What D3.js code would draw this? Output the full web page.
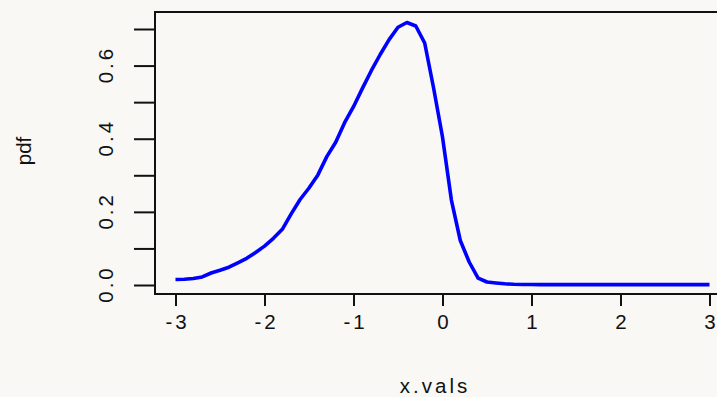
<!DOCTYPE html>
<html>
<head>
<meta charset="utf-8">
<script src="https://cdn.jsdelivr.net/npm/d3@7"></script>
<style>
  html, body { margin: 0; padding: 0; background: #f9f8f5; }
  svg { display: block; }
  text { font-family: "Liberation Sans", Arial, sans-serif; fill: #111; }
</style>
</head>
<body>
<svg id="chart" width="717" height="397"></svg>
<script>
// Density values evaluated on x.vals = -3, -2.9, ..., 3
const xVals = d3.range(61).map(i => +(-3 + i * 0.1).toFixed(1));
const pdfVals = [
  0.0150, 0.0156, 0.0178, 0.0221, 0.0328, 0.0402, 0.0487, 0.0607, 0.0730, 0.0889,
  0.1064, 0.1277, 0.1523, 0.1944, 0.2338, 0.2652, 0.3011, 0.3511, 0.3905, 0.4438,
  0.4876, 0.5376, 0.5860, 0.6303, 0.6711, 0.7047, 0.7178, 0.7082, 0.6617, 0.5387,
  0.4047, 0.2324, 0.1217, 0.0629, 0.0191, 0.0082, 0.0055, 0.0033, 0.0020, 0.0015,
  0.0012, 0.0010, 0.0010, 0.0010, 0.0010, 0.0010, 0.0010, 0.0010, 0.0010, 0.0010,
  0.0010, 0.0010, 0.0010, 0.0010, 0.0010, 0.0010, 0.0010, 0.0010, 0.0010, 0.0010,
  0.0010
];
const xTicks = [-3, -2, -1, 0, 1, 2, 3];
const yTicks = [0, 0.1, 0.2, 0.3, 0.4, 0.5, 0.6, 0.7];
const yTickLabels = ["0.0", "", "0.2", "", "0.4", "", "0.6", ""];
const xTitle = "x.vals";
const yTitle = "pdf";

const svg = d3.select("#chart");

// plot region (box), extends past the right edge of the canvas
const box = { left: 155, top: 12, right: 731, bottom: 294 };

const x = d3.scaleLinear().domain([-3.2303, 3.2416]).range([box.left, box.right]);
const y = d3.scaleLinear().domain([-0.0246, 0.7465]).range([box.bottom, box.top]);

// density curve
const data = xVals.map((v, i) => [v, pdfVals[i]]);
svg.append("path")
  .datum(data)
  .attr("fill", "none")
  .attr("stroke", "#0000ff")
  .attr("stroke-width", 3.6)
  .attr("stroke-linejoin", "round")
  .attr("d", d3.line().x(d => x(d[0])).y(d => y(d[1])));

// frame
svg.append("rect")
  .attr("x", box.left).attr("y", box.top)
  .attr("width", box.right - box.left).attr("height", box.bottom - box.top)
  .attr("fill", "none").attr("stroke", "#111").attr("stroke-width", 2);

// x axis
const xAxis = d3.axisBottom(x).tickValues(xTicks).tickSize(12).tickPadding(24)
  .tickFormat(d3.format("d"));
const gx = svg.append("g").attr("transform", `translate(0,${box.bottom})`).call(xAxis);
gx.select(".domain").remove();
gx.selectAll(".tick line").attr("stroke", "#111").attr("stroke-width", 2);
gx.selectAll(".tick text")
  .attr("font-size", 20.5).attr("letter-spacing", "3px")
  .attr("font-family", "Liberation Sans, Arial, sans-serif").attr("fill", "#111")
  .attr("dx", "1.5px")
  .attr("y", 35).attr("dy", null)
  .text(d => d < 0 ? "-" + Math.abs(d) : String(d));

// y axis with rotated labels
const yAxis = d3.axisLeft(y).tickValues(yTicks).tickSize(21)
  .tickFormat((d, i) => yTickLabels[i]);
const gy = svg.append("g").attr("transform", `translate(${box.left},0)`).call(yAxis);
gy.select(".domain").remove();
gy.selectAll(".tick line").attr("stroke", "#111").attr("stroke-width", 2);
gy.selectAll(".tick text")
  .attr("font-size", 20.5).attr("letter-spacing", "3px")
  .attr("font-family", "Liberation Sans, Arial, sans-serif").attr("fill", "#111")
  .attr("x", null).attr("dy", null).attr("dx", "1.5px")
  .attr("text-anchor", "middle")
  .attr("transform", "translate(-42,0) rotate(-90)");

// axis titles
svg.append("text")
  .attr("x", 435).attr("y", 393)
  .attr("text-anchor", "middle")
  .attr("font-size", 20.5).attr("letter-spacing", "3px")
  .text(xTitle);

svg.append("text")
  .attr("transform", "translate(31,151) rotate(-90)")
  .attr("text-anchor", "middle")
  .attr("font-size", 20.5)
  .text(yTitle);
</script>
</body>
</html>
